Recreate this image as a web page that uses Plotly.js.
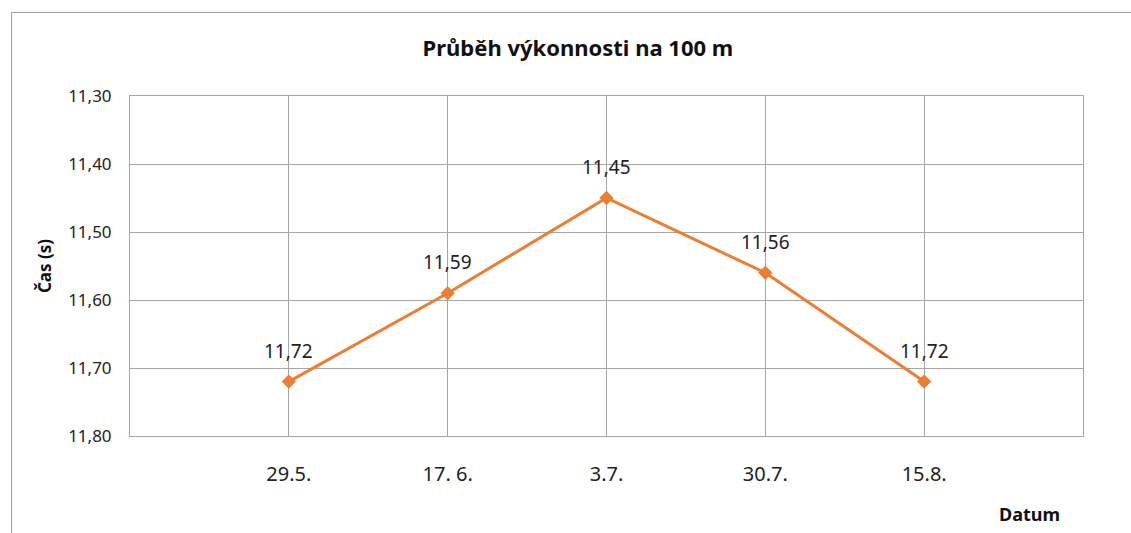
<!DOCTYPE html>
<html>
<head>
<meta charset="utf-8">
<script src="https://cdn.plot.ly/plotly-3.0.1.min.js"></script>
<style>
html,body{margin:0;padding:0;background:#fff;}
#frame{position:absolute;left:11px;top:12px;width:1120px;height:521px;border-left:1px solid #a0a0a0;border-top:1px solid #a0a0a0;box-sizing:border-box;}
#chart{position:absolute;left:0;top:0;width:1131px;height:533px;}
</style>
</head>
<body>
<div id="frame"></div>
<div id="chart"></div>
<script>
const dates = ["29.5.", "17. 6.", "3.7.", "30.7.", "15.8."];
const times = [11.72, 11.59, 11.45, 11.56, 11.72];
const yTicks = [11.3, 11.4, 11.5, 11.6, 11.7, 11.8];

const font = "Noto Sans, Liberation Sans, sans-serif";
const orange = "#ED7D31";
const grid = "#a6a6a6";

const trace = {
  x: dates,
  y: times,
  type: "scatter",
  mode: "lines+markers",
  line: {color: orange, width: 3},
  marker: {symbol: "diamond", size: 11, color: orange},
  hoverinfo: "x+y"
};

const labels = dates.map((d, i) => ({
  x: d, y: times[i], xref: "x", yref: "y",
  text: times[i].toFixed(2).replace(".", ","),
  showarrow: false, yshift: 31,
  font: {family: font, size: 19, color: "#222"}
}));

labels.push({
  xref: "paper", yref: "paper", x: 0.944, y: -0.229, xanchor: "center", yanchor: "middle",
  text: "<b>Datum</b>", showarrow: false,
  font: {family: font, size: 18, color: "#111"}
});

const layout = {
  width: 1131, height: 533,
  margin: {l: 130, r: 48, t: 96, b: 97},
  paper_bgcolor: "rgba(0,0,0,0)",
  plot_bgcolor: "#fff",
  separators: ", ",
  showlegend: false,
  title: {
    text: "<b>Průběh výkonnosti na 100 m</b>",
    x: 0.511, xanchor: "center", xref: "container",
    y: 0.91, yanchor: "middle", yref: "container",
    font: {family: font, size: 22, color: "#111"}
  },
  xaxis: {
    type: "category",
    range: [-1, 5],
    showgrid: true, gridcolor: grid, gridwidth: 1,
    showline: true, linecolor: grid, linewidth: 1, mirror: true,
    ticks: "", ticklabelstandoff: 20,
    tickfont: {family: font, size: 20, color: "#222"},
    zeroline: false, fixedrange: true
  },
  yaxis: {
    range: [11.8, 11.3],
    tickvals: yTicks,
    tickformat: ".2f",
    showgrid: true, gridcolor: grid, gridwidth: 1,
    showline: true, linecolor: grid, linewidth: 1, mirror: true,
    ticks: "", ticklabelstandoff: 14,
    tickfont: {family: font, size: 17, color: "#222"},
    zeroline: false,
    title: {text: "<b>Čas (s)</b>", standoff: 12, font: {family: font, size: 17, color: "#111"}}
  },
  annotations: labels
};

Plotly.newPlot("chart", [trace], layout, {displayModeBar: false});
</script>
</body>
</html>
